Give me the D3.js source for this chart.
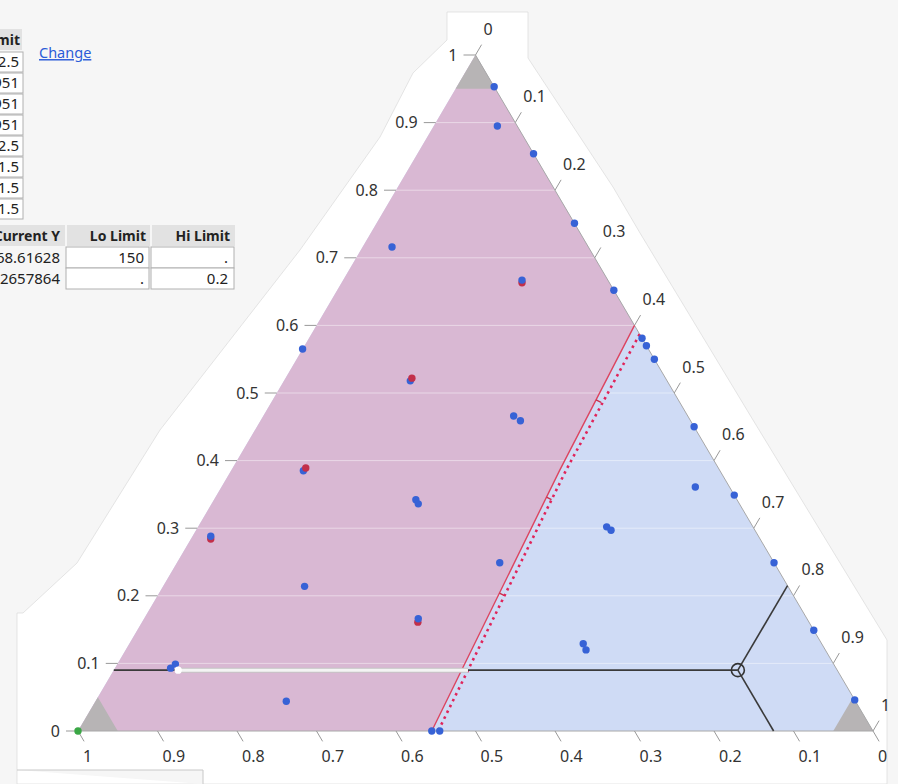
<!DOCTYPE html>
<html>
<head>
<meta charset="utf-8">
<script src="https://cdn.jsdelivr.net/npm/d3@7"></script>
<style>
  body { margin: 0; background: #f6f6f6; }
  svg { display: block; font-family: "Noto Sans", "Open Sans", sans-serif; }
</style>
</head>
<body>
<svg id="chart" width="898" height="784"></svg>
<script>
// Mixture components as [A, B, C]: A = top vertex, B = bottom-left, C = bottom-right
const tickValues = [0, 0.1, 0.2, 0.3, 0.4, 0.5, 0.6, 0.7, 0.8, 0.9, 1];
const tickLabels = ["0", "0.1", "0.2", "0.3", "0.4", "0.5", "0.6", "0.7", "0.8", "0.9", "1"];

// design runs, blue group
const blueRuns = [
  [0.953, 0.000, 0.047], [0.895, 0.025, 0.080], [0.854, 0.000, 0.146],
  [0.751, 0.000, 0.249], [0.652, 0.000, 0.348], [0.581, 0.000, 0.419],
  [0.570, 0.000, 0.430], [0.550, 0.000, 0.450], [0.450, 0.000, 0.550],
  [0.349, 0.000, 0.651], [0.249, 0.000, 0.751], [0.149, 0.000, 0.851],
  [0.046, 0.000, 0.954], [0.565, 0.435, 0.000], [0.716, 0.247, 0.037],
  [0.667, 0.108, 0.225], [0.466, 0.219, 0.315], [0.459, 0.214, 0.327],
  [0.342, 0.404, 0.254], [0.336, 0.404, 0.260], [0.361, 0.043, 0.596],
  [0.302, 0.184, 0.514], [0.297, 0.181, 0.522], [0.249, 0.345, 0.406],
  [0.214, 0.608, 0.178], [0.129, 0.300, 0.571], [0.120, 0.301, 0.579],
  [0.044, 0.716, 0.240], [0.000, 0.555, 0.445], [0.000, 0.545, 0.455],
  [0.093, 0.837, 0.070], [0.099, 0.828, 0.073], [0.288, 0.689, 0.023],
  [0.166, 0.489, 0.345], [0.385, 0.524, 0.091], [0.518, 0.323, 0.159]
];
// design runs, red group (last field: drawn above the blue group)
const redRuns = [
  [0.284, 0.691, 0.025, false], [0.161, 0.492, 0.347, false],
  [0.663, 0.110, 0.227, false], [0.389, 0.519, 0.092, true],
  [0.522, 0.319, 0.159, true]
];
// pure-B run
const greenRuns = [[0.000, 1.000, 0.000]];

// contour of Y1 at its lower limit (150) and Y2 at its upper limit (0.2)
const y1Contour = [[0.600, 0.000, 0.400], [0.386, 0.201, 0.413], [0.000, 0.555, 0.445]];
const y2Contour = [[0.587, 0.000, 0.413], [0.386, 0.193, 0.421], [0.000, 0.547, 0.453]];
const y1ContourTicksA = [0.49, 0.346, 0.204];

// component upper limit shading
const componentMax = 0.95;

// current setting of the mixture
const currentMix = [0.09, 0.125, 0.785];
const sliderStartC = 0.081;

// factor settings panel (Hi Limit column)
const factorHiLimit = ["12.5", "0.951", "0.951", "0.951", "12.5", "1.5", "1.5", "1.5"];
// response limits panel
const responseHeaders = ["Current Y", "Lo Limit", "Hi Limit"];
const responseCurrent = ["168.61628", "0.2657864"];
const responseLo = ["150", "."];
const responseHi = [".", "0.2"];

const svg = d3.select("#chart");

// ternary projection through two linear scales
const yS = d3.scaleLinear().domain([0, 1]).range([731, 55]);
const xS = d3.scaleLinear().domain([0, 1]).range([78, 873]);
const P = d => [xS(d[2] + d[0] / 2), yS(d[0])];
const line = d3.line();

// white plot frame
svg.append("path")
  .attr("d", line([[447, 12], [528, 12], [528, 58], [613, 187], [640, 233], [753, 420],
    [876, 622], [887, 640], [887, 784], [17, 784], [17, 613], [23, 613], [77, 563],
    [160, 430], [300, 250], [380, 137], [413, 73], [447, 40]]) + "Z")
  .attr("fill", "#ffffff").attr("stroke", "#dadada").attr("stroke-width", 0.7);
svg.append("path")
  .attr("d", line([[17, 770], [203, 770], [203, 784]]))
  .attr("fill", "#f6f6f6").attr("stroke", "#c8c8c8").attr("stroke-width", 1);

// base triangle (Y2 out-of-limit shading)
const corners = [[1, 0, 0], [0, 1, 0], [0, 0, 1]];
svg.append("path").attr("d", line(corners.map(P)) + "Z").attr("fill", "#cfdbf5");

// Y1 below lower limit shading
const pinkPoly = [[0, 1, 0], [1, 0, 0]].concat(y1Contour);
svg.append("path").attr("d", line(pinkPoly.map(P)) + "Z").attr("fill", "#d9b8d3");

// component upper-limit corners
const m = componentMax, r = 1 - componentMax;
const greyCorners = [
  [[1, 0, 0], [m, r, 0], [m, 0, r]],
  [[0, 1, 0], [r, m, 0], [0, m, r]],
  [[0, 0, 1], [r, 0, m], [0, r, m]]
];
svg.selectAll("path.corner").data(greyCorners).enter().append("path")
  .attr("class", "corner")
  .attr("d", d => line(d.map(P)) + "Z").attr("fill", "#b7b4b5");

// horizontal grid lines (constant A)
svg.selectAll("line.grid").data(tickValues.slice(1, -1)).enter().append("line")
  .attr("class", "grid")
  .attr("x1", v => P([v, 1 - v, 0])[0]).attr("y1", v => P([v, 1 - v, 0])[1])
  .attr("x2", v => P([v, 0, 1 - v])[0]).attr("y2", v => P([v, 0, 1 - v])[1])
  .attr("stroke", "#ffffff").attr("stroke-opacity", 0.45).attr("stroke-width", 1);

// triangle edges
svg.append("path").attr("d", line([[1, 0, 0], [0, 0, 1], [0, 1, 0]].map(P)))
  .attr("fill", "none").attr("stroke", "#a8a8a8").attr("stroke-width", 1);

// axes
const edgeLen = Math.hypot(xS(0.5) - xS(0), yS(1) - yS(0));
const ux = (xS(0.5) - xS(0)) / edgeLen, uy = (yS(1) - yS(0)) / edgeLen; // along left edge, upward
const tickLen = 12;
const labelStyle = sel => sel.attr("font-size", "16px").attr("fill", "#333").attr("dy", "0.35em");

// A axis on the left edge
const gA = svg.append("g");
tickValues.forEach((v, i) => {
  const [px, py] = P([v, 1 - v, 0]);
  gA.append("line").attr("x1", px).attr("y1", py).attr("x2", px - tickLen).attr("y2", py)
    .attr("stroke", "#999");
  gA.append("text").attr("x", px - 18).attr("y", py).attr("text-anchor", "end")
    .call(labelStyle).text(tickLabels[i]);
});

// C axis on the right edge
const gC = svg.append("g");
tickValues.forEach((v, i) => {
  const [px, py] = P([1 - v, 0, v]);
  gC.append("line").attr("x1", px).attr("y1", py)
    .attr("x2", px + ux * tickLen).attr("y2", py + uy * tickLen).attr("stroke", "#999");
  gC.append("text").attr("x", px + 8).attr("y", py - 26)
    .call(labelStyle).text(tickLabels[i]);
});

// B axis on the base
const gB = svg.append("g");
tickValues.forEach((v, i) => {
  const [px, py] = P([0, v, 1 - v]);
  gB.append("line").attr("x1", px).attr("y1", py)
    .attr("x2", px + ux * tickLen).attr("y2", py - uy * tickLen).attr("stroke", "#999");
  gB.append("text").attr("x", px + 5).attr("y", py + 25)
    .call(labelStyle).text(tickLabels[i]);
});

// interpolate a contour at a given A level
function contourAt(contour, a) {
  for (let k = 0; k < contour.length - 1; k++) {
    const p = contour[k], q = contour[k + 1];
    if (a <= p[0] && a >= q[0]) {
      const t = (p[0] - a) / (p[0] - q[0]);
      const c = p[2] + t * (q[2] - p[2]);
      return [a, 1 - a - c, c];
    }
  }
  return contour[contour.length - 1];
}

// contours
svg.append("path").attr("d", line(y1Contour.map(P)))
  .attr("fill", "none").attr("stroke", "#dc4560").attr("stroke-width", 1.4);
svg.selectAll("line.ctick").data(y1ContourTicksA).enter().append("line")
  .attr("class", "ctick")
  .attr("x1", a => P(contourAt(y1Contour, a))[0]).attr("y1", a => P(contourAt(y1Contour, a))[1])
  .attr("x2", a => P(contourAt(y1Contour, a))[0] + 5).attr("y2", a => P(contourAt(y1Contour, a))[1] + 2.5)
  .attr("stroke", "#c8304c").attr("stroke-width", 1.4);
svg.append("path").attr("d", line(y2Contour.map(P)))
  .attr("fill", "none").attr("stroke", "#e0245a").attr("stroke-width", 2.6)
  .attr("stroke-dasharray", "2.5 4");

// crosshair through the current mixture
const cur = P(currentMix);
const cross = svg.append("g").attr("stroke", "#3a3a3a").attr("stroke-width", 1.6).attr("fill", "none");
const [a0, b0, c0] = currentMix;
cross.append("line").attr("x1", P([a0, 1 - a0, 0])[0]).attr("y1", cur[1])
  .attr("x2", cur[0]).attr("y2", cur[1]);
cross.append("line").attr("x1", cur[0]).attr("y1", cur[1])
  .attr("x2", P([1 - c0, 0, c0])[0]).attr("y2", P([1 - c0, 0, c0])[1]);
cross.append("line").attr("x1", cur[0]).attr("y1", cur[1])
  .attr("x2", P([0, b0, 1 - b0])[0]).attr("y2", P([0, b0, 1 - b0])[1]);

// highlighted slider span of the A setting
const sL = P([a0, 1 - a0 - sliderStartC, sliderStartC]);
const sR = P(contourAt(y2Contour, a0));
svg.append("line").attr("x1", sL[0]).attr("y1", sL[1]).attr("x2", sR[0]).attr("y2", sR[1])
  .attr("stroke", "#c4c4c4").attr("stroke-width", 5);
svg.append("line").attr("x1", sL[0]).attr("y1", sL[1]).attr("x2", sR[0]).attr("y2", sR[1])
  .attr("stroke", "#f4f4f4").attr("stroke-width", 3);

// design points
const dot = (sel, data, color) => sel.selectAll(null).data(data).enter().append("circle")
  .attr("cx", d => P(d)[0]).attr("cy", d => P(d)[1]).attr("r", 3.7).attr("fill", color);
const pts = svg.append("g");
dot(pts, redRuns.filter(d => !d[3]), "#c22f4a");
dot(pts, blueRuns, "#3762d6");
dot(pts, redRuns.filter(d => d[3]), "#c22f4a");
dot(pts, greenRuns, "#3aa745");
svg.append("circle").attr("cx", sL[0]).attr("cy", sL[1]).attr("r", 3.6).attr("fill", "#ffffff");

// current point marker
svg.append("circle").attr("cx", cur[0]).attr("cy", cur[1]).attr("r", 6.5)
  .attr("fill", "none").attr("stroke", "#333").attr("stroke-width", 1.6);

// factor settings panel
const fp = svg.append("g").attr("font-size", "14px").attr("fill", "#222");
fp.append("rect").attr("x", -10).attr("y", 29).attr("width", 32).attr("height", 21).attr("fill", "#e2e2e2");
fp.append("text").attr("x", 20).attr("y", 40).attr("dy", "0.35em").attr("text-anchor", "end")
  .attr("font-weight", "bold").text("Hi Limit");
factorHiLimit.forEach((t, i) => {
  fp.append("rect").attr("x", -10).attr("y", 52 + i * 21).attr("width", 33).attr("height", 20)
    .attr("fill", "#fff").attr("stroke", "#b0b0b0");
  fp.append("text").attr("x", 19).attr("y", 62 + i * 21).attr("dy", "0.35em")
    .attr("text-anchor", "end").attr("font-size", "15px").text(t);
});
svg.append("text").attr("x", 39).attr("y", 53).attr("dy", "0.35em")
  .attr("font-size", "14.5px").attr("fill", "#2b5cd8").attr("text-decoration", "underline")
  .text("Change");

// response limits panel
const rp = svg.append("g").attr("fill", "#222");
const colRight = [60, 146, 230];
const colLeft = [-40, 67, 152];
const colW = [105, 83, 83];
responseHeaders.forEach((h, j) => {
  rp.append("rect").attr("x", colLeft[j]).attr("y", 225).attr("width", colW[j]).attr("height", 21)
    .attr("fill", "#e2e2e2");
  rp.append("text").attr("x", colRight[j]).attr("y", 236).attr("dy", "0.35em")
    .attr("text-anchor", "end").attr("font-weight", "bold").attr("font-size", "14px").text(h);
});
[responseCurrent, responseLo, responseHi].forEach((col, j) => {
  col.forEach((t, i) => {
    if (j > 0) {
      rp.append("rect").attr("x", colLeft[j] - 1).attr("y", 247 + i * 21).attr("width", colW[j])
        .attr("height", 21).attr("fill", "#fff").attr("stroke", "#b0b0b0");
    }
    rp.append("text").attr("x", colRight[j] - (j > 0 ? 2 : 0)).attr("y", 258 + i * 21).attr("dy", "0.35em")
      .attr("text-anchor", "end").attr("font-size", "15px").text(t);
  });
});
</script>
</body>
</html>
